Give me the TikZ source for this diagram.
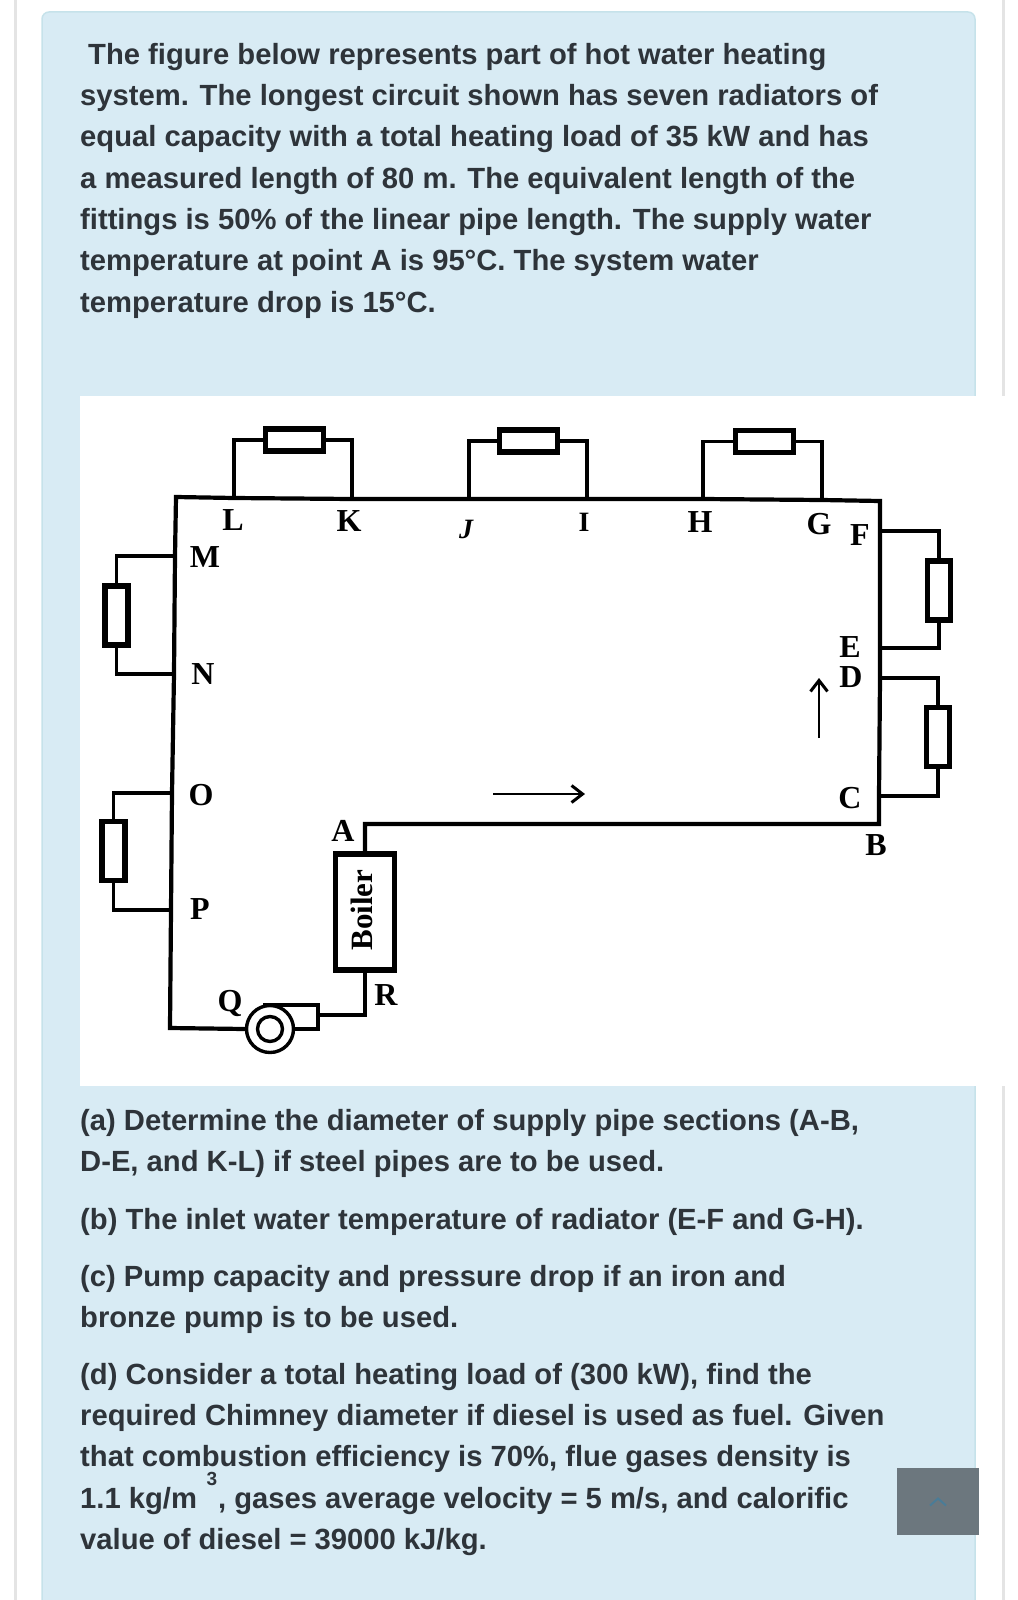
\documentclass[tikz,border=0pt]{standalone}
\usepackage{fontspec}
\usetikzlibrary{arrows.meta}
\setmainfont{Liberation Sans}
\newfontfamily\scanfont{Liberation Serif}
\definecolor{panelblue}{HTML}{D8EBF4}
\definecolor{panelrim}{HTML}{C6E2EA}
\definecolor{textdark}{HTML}{2E343A}
\definecolor{pagebar}{HTML}{E4E4E4}
\definecolor{btngrey}{HTML}{6C777E}
\definecolor{btnblue}{HTML}{4A7C97}
\tikzset{
  para/.style={anchor=north west, inner sep=0pt, align=left, text=textdark,
    font=\fontsize{29.2}{41.3}\selectfont\bfseries},
  pipe/.style={line width=4.2pt, line join=miter},
  branch/.style={line width=3.8pt, line join=miter},
  radh/.style={draw, line width=5.6pt, fill=white, inner sep=0pt, minimum width=58pt, minimum height=22pt},
  radv/.style={draw, line width=5.6pt, fill=white, inner sep=0pt, minimum width=23pt, minimum height=59pt},
  pt/.style={inner sep=0pt, font=\fontsize{32}{32}\selectfont\scanfont\bfseries},
  flow/.style={line width=2.6pt, -{Straight Barb[length=11pt,width=17pt,line width=3pt]}},
}
\begin{document}
\begin{tikzpicture}[x=1pt,y=-1pt]
\useasboundingbox (0,0) rectangle (1017,1600);
% page and panel
\fill[pagebar] (13.5,0) rectangle (17,1600);
\fill[pagebar] (1002,0) rectangle (1005,1600);
\draw[panelrim,fill=panelblue,line width=1.5pt,rounded corners=7pt] (42,1620) -- (42,12) -- (975,12) -- (975,1620);
\fill[white] (80,396) rectangle (1006,1086);
\node[para] (intro) at (80,43) {\hspace*{8pt}The figure below represents part of hot water heating\\
system. The longest circuit shown has seven radiators of\\
equal capacity with a total heating load of 35 kW and has\\
a measured length of 80 m. The equivalent length of the\\
fittings is 50\% of the linear pipe length. The supply water\\
temperature at point A is 95°C. The system water\\
temperature drop is 15°C.};
\node[para] (parta) at (80,1109) {(a) Determine the diameter of supply pipe sections (A-B,\\
D-E, and K-L) if steel pipes are to be used.};
\node[para] (partb) at (80,1208) {(b) The inlet water temperature of radiator (E-F and G-H).};
\node[para] (partc) at (80,1265) {(c) Pump capacity and pressure drop if an iron and\\
bronze pump is to be used.};
\node[para] (partd) at (80,1363) {(d) Consider a total heating load of (300 kW), find the\\
required Chimney diameter if diesel is used as fuel. Given\\
that combustion efficiency is 70\%, flue gases density is\\
1.1 kg/m\hspace{21pt}, gases average velocity = 5 m/s, and calorific\\
value of diesel = 39000 kJ/kg.};
\node[para,anchor=center,font=\fontsize{19}{19}\selectfont\bfseries] (cube) at (212,1479) {3};
% scroll button
\node[fill=btngrey,inner sep=0pt,minimum width=82pt,minimum height=67pt] (btn) at (938,1501.5) {};
\draw[btnblue,line width=2pt] ([shift={(-8,4)}]btn.center) -- ([shift={(0,-3)}]btn.center) -- ([shift={(8,4)}]btn.center);
% points on the circuit
\coordinate (A) at (365,824);
\coordinate (B) at (879,824);
\coordinate (C) at (879,796);
\coordinate (D) at (880,678);
\coordinate (E) at (880,648);
\coordinate (F) at (880,531);
\coordinate (Fc) at (880,501);
\coordinate (G) at (822,500);
\coordinate (H) at (703,499);
\coordinate (I) at (587,499);
\coordinate (J) at (469,499);
\coordinate (K) at (352,499);
\coordinate (L) at (234,498);
\coordinate (Lc) at (176,497);
\coordinate (M) at (175,556);
\coordinate (N) at (174,674);
\coordinate (O) at (172,793);
\coordinate (P) at (171,910);
\coordinate (Qc) at (170,1028);
\coordinate (R) at (365,1015);
% boiler and pump
\node[draw,line width=5.6pt,fill=white,inner sep=0pt,minimum width=59pt,minimum height=116pt] (boiler) at (365,912) {};
\node[pt,rotate=90,font=\fontsize{31}{31}\selectfont\scanfont\bfseries] (boilertxt) at (362,910) {Boiler};
\node[draw,circle,line width=3.4pt,inner sep=0pt,minimum size=47pt] (pump) at (270,1029) {};
\node[draw,circle,line width=3.4pt,inner sep=0pt,minimum size=25pt] (rotor) at (270,1029) {};
\coordinate (pumptop) at (263,1005);
\coordinate (pumplow) at (293,1029);
\coordinate (pumpout) at (318,1015);
% main pipe
\draw[pipe] (boiler.north -| A) -- (A) -- (B) -- (C) -- (D) -- (E) -- (F) -- (Fc) -- (G) -- (H) -- (I) -- (J) -- (K) -- (L) -- (Lc) -- (M) -- (N) -- (O) -- (P) -- (Qc) -- (pump.west);
\draw[branch] (pumptop) -- (pumptop -| pumpout) -- (pumplow -| pumpout) -- (pumplow);
\draw[branch] (pumpout) -- (R) -- (boiler.south -| R);
% radiators
\node[radh] (radLK) at (294.5,440) {};
\node[radh] (radJI) at (528.5,441) {};
\node[radh] (radHG) at (764.5,441.5) {};
\node[radv] (radFE) at (939,590.5) {};
\node[radv] (radDC) at (938,737) {};
\node[radv] (radMN) at (116.5,615.5) {};
\node[radv] (radOP) at (113.5,851) {};
\draw[branch] (L) |- (radLK.west);
\draw[branch] (K) |- (radLK.east);
\draw[branch] (J) |- (radJI.west);
\draw[branch] (I) |- (radJI.east);
\draw[branch] (H) |- (radHG.west);
\draw[branch] (G) |- (radHG.east);
\draw[branch] (F) -| (radFE.north);
\draw[branch] (E) -| (radFE.south);
\draw[branch] (D) -| (radDC.north);
\draw[branch] (C) -| (radDC.south);
\draw[branch] (M) -| (radMN.north);
\draw[branch] (N) -| (radMN.south);
\draw[branch] (O) -| (radOP.north);
\draw[branch] (P) -| (radOP.south);
% flow arrows
\coordinate (flowa) at (493,794);
\coordinate (flowb) at (585,794);
\coordinate (flowc) at (819,738);
\coordinate (flowd) at (819,678);
\draw[flow] (flowa) -- (flowb);
\draw[flow] (flowc) -- (flowd);
% letters
\node[pt] (lblA) at (343,831) {A};
\node[pt] (lblB) at (876,845) {B};
\node[pt] (lblC) at (850,798) {C};
\node[pt] (lblD) at (851,677) {D};
\node[pt] (lblE) at (850,647) {E};
\node[pt] (lblF) at (860,535) {F};
\node[pt] (lblG) at (819,524) {G};
\node[pt] (lblH) at (700,522) {H};
\node[pt,font=\fontsize{28}{28}\selectfont\scanfont\bfseries] (lblI) at (584,522) {I};
\node[pt,font=\fontsize{28}{28}\selectfont\scanfont\bfseries\itshape] (lblJ) at (466,529) {J};
\node[pt] (lblK) at (349,521) {K};
\node[pt] (lblL) at (233,520) {L};
\node[pt] (lblM) at (205,557) {M};
\node[pt] (lblN) at (203,674) {N};
\node[pt] (lblO) at (201,795) {O};
\node[pt] (lblP) at (200,909) {P};
\node[pt] (lblQ) at (230,1003) {Q};
\node[pt] (lblR) at (386,995) {R};
\end{tikzpicture}
\end{document}
